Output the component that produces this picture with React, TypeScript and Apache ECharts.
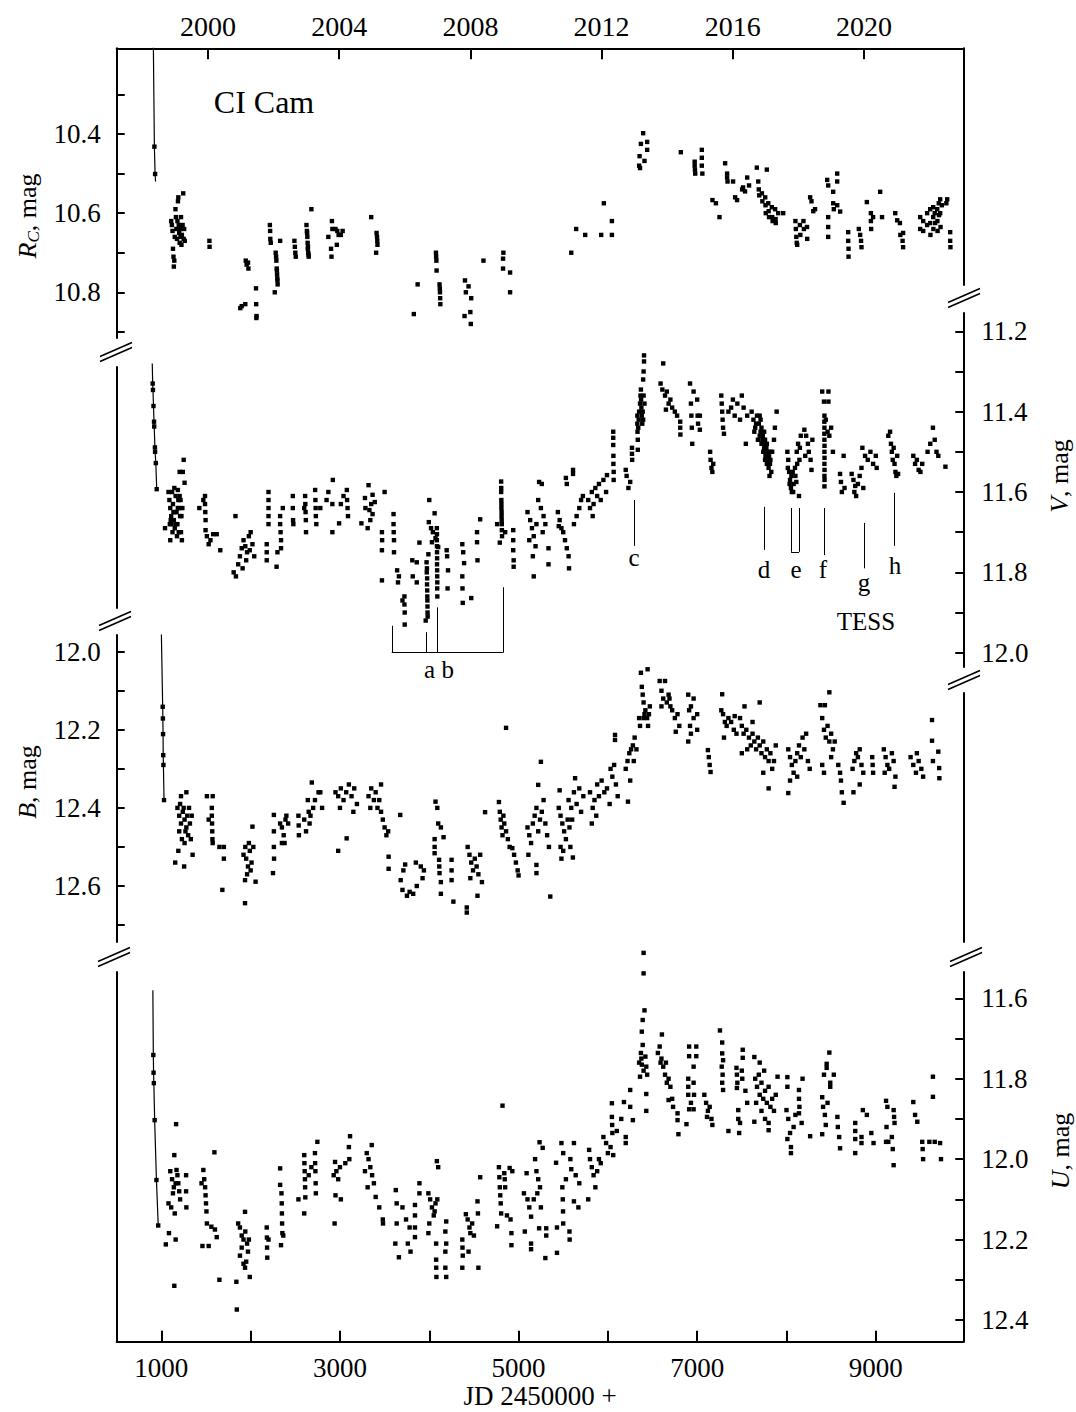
import React, { useEffect, useRef } from "react";
import * as echarts from "echarts";

// ---------------- DATA (JD - 2450000, magnitude) ----------------
const rcEarlyLine = [[908, 10.12], [922, 10.432], [930, 10.501], [935, 10.52]];
const rcPoints = [
  [922, 10.432], [930, 10.501],
  [1110, 10.62], [1118, 10.63], [1125, 10.645], [1130, 10.69], [1136, 10.71], [1140, 10.735], [1145, 10.72], [1150, 10.66], [1158, 10.59], [1163, 10.61], [1168, 10.64], [1175, 10.665], [1180, 10.62], [1186, 10.57], [1190, 10.56], [1195, 10.63], [1200, 10.65], [1205, 10.675], [1210, 10.64], [1215, 10.66], [1220, 10.61], [1225, 10.68], [1230, 10.655], [1238, 10.63], [1245, 10.55], [1250, 10.665], [1255, 10.64], [1262, 10.67],
  [1538, 10.67], [1540, 10.685],
  [1884, 10.84], [1900, 10.835], [1940, 10.83], [1945, 10.72], [1955, 10.73], [1970, 10.725], [1975, 10.74],
  [2060, 10.79], [2062, 10.83], [2064, 10.865], [2066, 10.86],
  [2215, 10.63], [2218, 10.645], [2220, 10.665], [2225, 10.675],
  [2280, 10.70], [2285, 10.71], [2288, 10.72], [2292, 10.74], [2294, 10.745], [2296, 10.755], [2298, 10.765], [2300, 10.77], [2302, 10.78], [2270, 10.80], [2330, 10.67],
  [2490, 10.67], [2495, 10.685], [2500, 10.70], [2505, 10.71],
  [2625, 10.63], [2630, 10.645], [2632, 10.65], [2635, 10.66], [2638, 10.675], [2640, 10.69], [2642, 10.685], [2645, 10.70], [2648, 10.705], [2650, 10.71], [2680, 10.59],
  [2870, 10.66], [2900, 10.69], [2905, 10.71], [2910, 10.62], [2915, 10.64], [2950, 10.64], [2970, 10.645], [2985, 10.655], [3010, 10.655], [2965, 10.68], [3030, 10.645],
  [3350, 10.61], [3410, 10.65], [3415, 10.66], [3418, 10.67], [3420, 10.68], [3405, 10.70],
  [3827, 10.855], [3870, 10.78],
  [4075, 10.70], [4077, 10.71], [4080, 10.72], [4082, 10.745],
  [4115, 10.78], [4118, 10.79], [4120, 10.80], [4122, 10.815], [4124, 10.83],
  [4400, 10.77], [4440, 10.785], [4410, 10.80], [4470, 10.815], [4395, 10.86], [4460, 10.85], [4465, 10.88],
  [4607, 10.72],
  [4830, 10.70], [4826, 10.715], [4826, 10.74], [4905, 10.75], [4905, 10.80],
  [5590, 10.70], [5645, 10.64], [5746, 10.655], [5925, 10.655], [6045, 10.655], [6045, 10.62], [5955, 10.575],
  [6395, 10.398], [6370, 10.425], [6440, 10.42], [6440, 10.44], [6355, 10.456], [6410, 10.468], [6350, 10.48], [6360, 10.486],
  [6817, 10.446],
  [6972, 10.47], [6972, 10.48], [6975, 10.49], [6978, 10.50], [7052, 10.44], [7052, 10.46], [7052, 10.48], [7058, 10.50],
  [7171, 10.567], [7210, 10.575], [7250, 10.61],
  [7313, 10.474], [7335, 10.50], [7335, 10.51], [7340, 10.52], [7402, 10.52], [7425, 10.56], [7447, 10.567], [7503, 10.54], [7514, 10.535], [7536, 10.545], [7581, 10.53], [7560, 10.51],
  [7668, 10.485], [7780, 10.49], [7684, 10.52], [7690, 10.54], [7695, 10.555], [7725, 10.55], [7730, 10.57], [7762, 10.56], [7765, 10.58], [7768, 10.60], [7796, 10.575], [7800, 10.595], [7805, 10.61], [7836, 10.585], [7840, 10.61], [7845, 10.62], [7873, 10.59], [7878, 10.615], [7880, 10.625], [7907, 10.60], [7963, 10.60],
  [8100, 10.62], [8105, 10.64], [8110, 10.66], [8115, 10.675], [8150, 10.63], [8155, 10.655], [8120, 10.68],
  [8190, 10.62], [8195, 10.64], [8230, 10.635], [8232, 10.665],
  [8265, 10.56], [8280, 10.57], [8300, 10.595], [8320, 10.59],
  [8467, 10.61], [8467, 10.635], [8467, 10.66], [8456, 10.516], [8467, 10.53], [8523, 10.546], [8568, 10.50], [8568, 10.52], [8523, 10.575], [8530, 10.59], [8568, 10.58], [8601, 10.596],
  [8691, 10.648], [8691, 10.67], [8695, 10.69], [8695, 10.71],
  [8810, 10.64], [8825, 10.655], [8835, 10.67], [8840, 10.686],
  [8900, 10.572], [8945, 10.60], [8945, 10.62], [8948, 10.64], [8970, 10.61], [9070, 10.61], [9049, 10.546],
  [9218, 10.60], [9240, 10.618], [9270, 10.625], [9275, 10.655], [9306, 10.65], [9300, 10.67], [9306, 10.686],
  [9497, 10.61], [9497, 10.64], [9531, 10.62], [9531, 10.645], [9575, 10.60], [9575, 10.63], [9609, 10.59], [9609, 10.625], [9612, 10.655], [9643, 10.585], [9643, 10.61], [9645, 10.64], [9688, 10.59], [9690, 10.62], [9692, 10.645], [9721, 10.565], [9721, 10.60], [9725, 10.635], [9800, 10.565], [9790, 10.575], [9833, 10.648], [9833, 10.67], [9836, 10.686],
  [9660, 10.60], [9665, 10.625], [9705, 10.575], [9708, 10.605], [9740, 10.58],
];

const vEarlyLine = [[898, 11.28], [903, 11.33], [906, 11.346], [912, 11.386], [918, 11.425], [920, 11.437], [928, 11.489], [930, 11.50], [938, 11.528], [948, 11.593]];
const vPoints = [
  [903, 11.33], [906, 11.346], [912, 11.386], [918, 11.425], [920, 11.437], [928, 11.489], [930, 11.50], [938, 11.528], [948, 11.593],
  [1250, 11.52], [1205, 11.55], [1240, 11.55], [1260, 11.577], [1100, 11.72], [1230, 11.72], [1041, 11.69],
  [1080, 11.60], [1090, 11.62], [1100, 11.64], [1110, 11.66], [1120, 11.60], [1130, 11.63], [1140, 11.67], [1150, 11.69], [1160, 11.61], [1170, 11.65], [1180, 11.68], [1190, 11.62], [1200, 11.64], [1210, 11.66], [1220, 11.70], [1125, 11.70], [1175, 11.71], [1095, 11.68], [1145, 11.59], [1185, 11.595], [1235, 11.64], [1215, 11.62], [1155, 11.65], [1105, 11.67], [1195, 11.70],
  [1115, 11.68], [1135, 11.65], [1165, 11.68], [1185, 11.64], [1205, 11.61], [1225, 11.66],
  [1489, 11.61], [1425, 11.64], [1489, 11.63], [1492, 11.65], [1495, 11.67], [1495, 11.695], [1510, 11.71], [1530, 11.73], [1580, 11.705], [1620, 11.705], [1660, 11.745], [1470, 11.62], [1550, 11.72],
  [1830, 11.66], [1835, 11.81], [1810, 11.80], [1860, 11.78], [1880, 11.76], [1900, 11.74], [1920, 11.72], [1940, 11.735], [1960, 11.75], [1980, 11.71], [2000, 11.70], [2020, 11.73], [2040, 11.76], [1950, 11.77], [1910, 11.79], [1990, 11.745],
  [2200, 11.60], [2200, 11.62], [2200, 11.64], [2200, 11.66], [2200, 11.68], [2180, 11.73], [2180, 11.75], [2180, 11.77], [2290, 11.786], [2330, 11.66], [2330, 11.68], [2335, 11.70], [2340, 11.72], [2340, 11.74], [2360, 11.64], [2300, 11.75],
  [2472, 11.61], [2472, 11.64], [2475, 11.67], [2478, 11.68], [2610, 11.61], [2612, 11.63], [2615, 11.65], [2618, 11.67], [2620, 11.70], [2600, 11.64], [2722, 11.595], [2725, 11.62], [2728, 11.64], [2730, 11.66], [2735, 11.68], [2780, 11.64], [2920, 11.57], [2915, 11.63], [2915, 11.70], [2850, 11.62], [2870, 11.60], [2990, 11.678], [3077, 11.595], [3080, 11.62], [3085, 11.64], [3090, 11.66], [3010, 11.63], [3040, 11.61],
  [3320, 11.583], [3365, 11.607], [3280, 11.615], [3285, 11.64], [3330, 11.645], [3365, 11.655], [3340, 11.67], [3310, 11.69], [3240, 11.678], [3500, 11.60], [3390, 11.625], [3350, 11.63],
  [3470, 11.70], [3472, 11.72], [3470, 11.745], [3600, 11.655], [3600, 11.68], [3602, 11.70], [3605, 11.72], [3605, 11.75],
  [3470, 11.82], [3640, 11.795], [3660, 11.81], [3650, 11.825], [3722, 11.86], [3722, 11.88], [3725, 11.90], [3725, 11.93], [3700, 11.87],
  [3810, 11.77], [3860, 11.775], [3815, 11.81], [3860, 11.825], [3890, 11.726],
  [3970, 11.775], [3972, 11.80], [3975, 11.83], [3978, 11.86], [3980, 11.885], [3982, 11.91], [3960, 11.92], [3990, 11.755],
  [3974, 11.79], [3976, 11.815], [3977, 11.845], [3979, 11.87], [3981, 11.90],
  [4000, 11.62], [4060, 11.653], [3995, 11.675], [4020, 11.69], [4040, 11.70], [4070, 11.715], [4100, 11.737], [4030, 11.725],
  [4085, 11.69], [4085, 11.72], [4087, 11.75], [4087, 11.78], [4089, 11.81], [4089, 11.84], [4090, 11.86],
  [4086, 11.705], [4086, 11.735], [4088, 11.765], [4088, 11.795], [4090, 11.825],
  [4195, 11.745], [4200, 11.76], [4210, 11.795], [4205, 11.84],
  [4370, 11.73], [4380, 11.75], [4390, 11.777], [4370, 11.81], [4372, 11.84], [4375, 11.876], [4470, 11.864], [4535, 11.70], [4535, 11.725], [4540, 11.77], [4570, 11.668],
  [4805, 11.574], [4805, 11.60], [4807, 11.62], [4808, 11.64], [4810, 11.66], [4812, 11.68], [4815, 11.71], [4760, 11.68], [4790, 11.726], [4850, 11.70], [4940, 11.695], [4940, 11.72], [4940, 11.745], [4945, 11.77], [4945, 11.786],
  [4806, 11.59], [4808, 11.63], [4810, 11.65], [4811, 11.67], [4813, 11.695],
  [5100, 11.65], [5130, 11.67], [5150, 11.69], [5170, 11.71], [5190, 11.735], [5120, 11.72], [5200, 11.68], [5160, 11.76], [5170, 11.81],
  [5230, 11.575], [5260, 11.58], [5220, 11.62], [5250, 11.64], [5280, 11.66], [5300, 11.68], [5270, 11.70], [5335, 11.74], [5335, 11.78],
  [5440, 11.65], [5460, 11.67], [5480, 11.69], [5500, 11.70], [5520, 11.72], [5540, 11.74], [5560, 11.76], [5565, 11.79], [5450, 11.685],
  [5530, 11.565], [5540, 11.58], [5610, 11.545], [5610, 11.555],
  [5620, 11.68], [5650, 11.66], [5680, 11.64], [5700, 11.62], [5720, 11.61],
  [5780, 11.62], [5800, 11.64], [5820, 11.60], [5840, 11.63], [5860, 11.59], [5880, 11.61], [5900, 11.58], [5920, 11.62], [5950, 11.57], [5980, 11.60], [5830, 11.66],
  [5990, 11.558], [6060, 11.45], [6060, 11.465], [6060, 11.483], [6062, 11.51], [6062, 11.53], [6065, 11.55], [6065, 11.57],
  [6200, 11.545], [6210, 11.56], [6230, 11.59], [6250, 11.575], [6270, 11.49], [6270, 11.505], [6272, 11.52],
  [6330, 11.41], [6330, 11.43], [6332, 11.45], [6335, 11.47], [6335, 11.495], [6370, 11.345], [6372, 11.37], [6375, 11.39], [6380, 11.41], [6385, 11.43], [6390, 11.40], [6395, 11.42], [6405, 11.26], [6405, 11.275], [6400, 11.30], [6395, 11.32], [6400, 11.36], [6410, 11.38],
  [6340, 11.44], [6345, 11.42], [6350, 11.40], [6360, 11.38], [6365, 11.36],
  [6620, 11.28], [6590, 11.33], [6610, 11.345], [6640, 11.36], [6660, 11.35], [6680, 11.38], [6700, 11.37], [6720, 11.39], [6750, 11.40], [6775, 11.41], [6810, 11.425], [6810, 11.44], [6812, 11.457], [6650, 11.395],
  [6920, 11.33], [6960, 11.35], [6930, 11.38], [6935, 11.41], [6940, 11.44], [6945, 11.48], [7000, 11.37], [7005, 11.41], [7010, 11.43],
  [7030, 11.41], [7030, 11.445], [7145, 11.50], [7150, 11.52], [7160, 11.54], [7170, 11.55], [7180, 11.53],
  [7270, 11.36], [7275, 11.38], [7280, 11.40], [7285, 11.42], [7290, 11.44], [7300, 11.455],
  [7350, 11.40], [7380, 11.39], [7400, 11.37], [7420, 11.41], [7450, 11.38], [7480, 11.42], [7500, 11.36], [7520, 11.39], [7545, 11.48], [7560, 11.41],
  [7610, 11.40], [7630, 11.42], [7650, 11.44], [7670, 11.41], [7690, 11.43], [7700, 11.46], [7710, 11.45], [7720, 11.48], [7730, 11.47], [7740, 11.50], [7750, 11.49], [7760, 11.52], [7770, 11.50], [7780, 11.53], [7790, 11.51], [7800, 11.54], [7810, 11.56], [7820, 11.52], [7840, 11.50], [7860, 11.47], [7870, 11.44], [7890, 11.40], [7680, 11.47], [7710, 11.42], [7750, 11.45], [7830, 11.55], [7640, 11.45], [7780, 11.48],
  [7720, 11.44], [7735, 11.46], [7745, 11.47], [7755, 11.48], [7765, 11.51], [7775, 11.49], [7785, 11.52], [7795, 11.50], [7805, 11.51], [7815, 11.53], [7825, 11.50], [7760, 11.47], [7700, 11.41], [7660, 11.43],
  [8010, 11.50], [8020, 11.52], [8030, 11.55], [8040, 11.57], [8050, 11.59], [8060, 11.60], [8080, 11.58], [8100, 11.56], [8120, 11.53], [8140, 11.61], [8150, 11.49], [8160, 11.46], [8070, 11.55], [8110, 11.575],
  [8015, 11.54], [8035, 11.58], [8055, 11.56], [8075, 11.60], [8095, 11.54], [8115, 11.50], [8130, 11.48], [8145, 11.52],
  [8200, 11.445], [8220, 11.46], [8240, 11.48], [8250, 11.50], [8270, 11.52], [8280, 11.545], [8210, 11.51], [8290, 11.47],
  [8400, 11.35], [8470, 11.35], [8420, 11.375], [8470, 11.375], [8425, 11.41], [8425, 11.44], [8425, 11.47], [8425, 11.50], [8425, 11.53], [8425, 11.56], [8425, 11.586], [8440, 11.42], [8460, 11.45], [8480, 11.46], [8500, 11.44], [8520, 11.50],
  [8424, 11.425], [8424, 11.455], [8426, 11.485], [8426, 11.515], [8426, 11.545], [8426, 11.57],
  [8640, 11.51], [8600, 11.555], [8610, 11.575], [8620, 11.60], [8650, 11.59],
  [8730, 11.555], [8750, 11.57], [8760, 11.60], [8780, 11.61], [8800, 11.58], [8820, 11.56], [8840, 11.54], [8860, 11.59], [8770, 11.585],
  [8850, 11.49], [8880, 11.51], [8910, 11.52], [8940, 11.50], [8970, 11.53], [9000, 11.51], [9010, 11.54],
  [9140, 11.46], [9160, 11.45], [9170, 11.48], [9180, 11.50], [9190, 11.52], [9200, 11.49], [9210, 11.53], [9220, 11.55], [9230, 11.56], [9240, 11.51], [9250, 11.555],
  [9420, 11.51], [9440, 11.53], [9460, 11.52], [9480, 11.545], [9500, 11.55], [9520, 11.53],
  [9580, 11.50], [9610, 11.48], [9640, 11.44], [9660, 11.47], [9680, 11.50], [9700, 11.51], [9780, 11.537],
];

const bEarlyLine = [[1000, 11.95], [1015, 12.141], [1017, 12.171], [1019, 12.211], [1021, 12.265], [1023, 12.29], [1030, 12.38]];
const bPoints = [
  [1015, 12.141], [1017, 12.171], [1019, 12.211], [1021, 12.265], [1023, 12.29], [1030, 12.38],
  [1155, 12.54], [1255, 12.55], [1280, 12.36], [1220, 12.37], [1180, 12.40], [1200, 12.42], [1220, 12.44], [1240, 12.41], [1260, 12.43], [1280, 12.45], [1300, 12.47], [1320, 12.44], [1340, 12.42], [1200, 12.46], [1230, 12.48], [1260, 12.49], [1290, 12.42], [1250, 12.40], [1210, 12.39], [1330, 12.48], [1190, 12.51], [1350, 12.52], [1270, 12.46], [1310, 12.40],
  [1510, 12.37], [1575, 12.37], [1565, 12.40], [1565, 12.42], [1568, 12.44], [1570, 12.46], [1572, 12.48], [1575, 12.49], [1650, 12.50], [1700, 12.50], [1700, 12.53], [1683, 12.61], [1530, 12.43],
  [2020, 12.448], [1937, 12.585], [1937, 12.644], [2055, 12.589], [1920, 12.52], [1950, 12.53], [1970, 12.55], [1990, 12.51], [2010, 12.54], [2030, 12.50], [1960, 12.57], [1980, 12.49], [2000, 12.56], [1940, 12.50],
  [2260, 12.418], [2250, 12.567], [2260, 12.46], [2260, 12.50], [2262, 12.53], [2330, 12.44], [2350, 12.45], [2370, 12.47], [2390, 12.43], [2400, 12.42], [2420, 12.44], [2380, 12.49], [2350, 12.49],
  [2685, 12.335], [2640, 12.38], [2650, 12.41], [2660, 12.44], [2670, 12.42], [2700, 12.40], [2760, 12.36], [2780, 12.36], [2535, 12.42], [2538, 12.445], [2540, 12.47], [2600, 12.43], [2620, 12.46], [2720, 12.38], [2800, 12.40],
  [2950, 12.36], [2980, 12.37], [3010, 12.35], [3040, 12.38], [3070, 12.36], [3100, 12.34], [3130, 12.37], [3160, 12.35], [3190, 12.39], [2980, 12.51], [3075, 12.478], [3000, 12.40], [3150, 12.41],
  [3320, 12.37], [3350, 12.35], [3380, 12.38], [3400, 12.36], [3420, 12.40], [3440, 12.38], [3460, 12.34], [3340, 12.40],
  [3460, 12.41], [3480, 12.43], [3500, 12.45], [3520, 12.47], [3540, 12.46], [3545, 12.525], [3545, 12.556], [3675, 12.418],
  [3730, 12.545], [3850, 12.54], [3905, 12.55], [3940, 12.56], [3925, 12.58], [3860, 12.60], [3780, 12.615], [3820, 12.62], [3750, 12.625], [3700, 12.61], [3680, 12.585], [3710, 12.56],
  [4070, 12.384], [4090, 12.40], [4100, 12.44], [4130, 12.45], [4160, 12.475], [4060, 12.48], [4060, 12.50], [4060, 12.516], [4110, 12.533], [4112, 12.55], [4115, 12.567], [4130, 12.59], [4130, 12.62], [4250, 12.533], [4250, 12.56], [4250, 12.585], [4270, 12.64],
  [4420, 12.655], [4420, 12.668], [4540, 12.625], [4625, 12.411], [4430, 12.50], [4450, 12.52], [4470, 12.54], [4490, 12.56], [4510, 12.53], [4530, 12.55], [4550, 12.57], [4570, 12.52], [4590, 12.59], [4460, 12.58],
  [4860, 12.195], [4780, 12.385], [4790, 12.41], [4800, 12.43], [4810, 12.45], [4820, 12.47], [4840, 12.44], [4860, 12.46], [4880, 12.48], [4900, 12.50], [4830, 12.42],
  [4930, 12.503], [4950, 12.52], [4970, 12.54], [4990, 12.56], [5000, 12.573],
  [5250, 12.282], [5220, 12.341], [5100, 12.45], [5120, 12.47], [5140, 12.49], [5160, 12.44], [5180, 12.42], [5200, 12.40], [5220, 12.46], [5240, 12.43], [5260, 12.41], [5280, 12.38], [5300, 12.44], [5320, 12.47], [5340, 12.50], [5200, 12.546], [5200, 12.567], [5355, 12.627], [5110, 12.52],
  [5450, 12.40], [5470, 12.42], [5490, 12.44], [5510, 12.46], [5530, 12.48], [5550, 12.43], [5570, 12.45], [5580, 12.50], [5460, 12.355], [5500, 12.51], [5470, 12.50], [5480, 12.53], [5608, 12.527],
  [5633, 12.324], [5560, 12.38], [5590, 12.40], [5620, 12.36], [5650, 12.39], [5680, 12.35], [5700, 12.41], [5725, 12.37], [5600, 12.43],
  [5800, 12.36], [5830, 12.40], [5850, 12.38], [5880, 12.34], [5900, 12.37], [5930, 12.33], [5960, 12.36], [5990, 12.35], [6020, 12.39], [5820, 12.44], [5870, 12.42],
  [6030, 12.30], [6050, 12.32], [6070, 12.29], [6090, 12.34], [6110, 12.37], [6080, 12.213], [6080, 12.226],
  [6200, 12.30], [6220, 12.28], [6240, 12.26], [6260, 12.25], [6280, 12.24], [6300, 12.22], [6320, 12.25], [6225, 12.384], [6250, 12.33], [6290, 12.28],
  [6445, 12.045], [6370, 12.054], [6380, 12.09], [6390, 12.11], [6400, 12.13], [6420, 12.15], [6440, 12.17], [6460, 12.16], [6470, 12.14], [6350, 12.17], [6360, 12.19], [6450, 12.19], [6410, 12.16], [6400, 12.17],
  [6580, 12.075], [6640, 12.075], [6600, 12.10], [6620, 12.12], [6660, 12.13], [6680, 12.11], [6700, 12.14], [6720, 12.15], [6750, 12.17], [6780, 12.16], [6800, 12.19], [6600, 12.14], [6760, 12.205], [6690, 12.12],
  [6900, 12.11], [6960, 12.12], [6910, 12.15], [6930, 12.14], [6960, 12.17], [7000, 12.16], [6920, 12.19], [6930, 12.21], [7000, 12.20], [6900, 12.23],
  [7120, 12.252], [7130, 12.27], [7140, 12.29], [7150, 12.308],
  [7280, 12.109], [7270, 12.15], [7290, 12.16], [7310, 12.18], [7330, 12.19], [7350, 12.17], [7380, 12.18], [7410, 12.20], [7440, 12.21], [7300, 12.22], [7420, 12.165],
  [7700, 12.13], [7530, 12.14], [7480, 12.17], [7500, 12.19], [7520, 12.21], [7550, 12.20], [7580, 12.22], [7600, 12.24], [7620, 12.21], [7640, 12.23], [7660, 12.25], [7680, 12.22], [7700, 12.24], [7720, 12.26], [7740, 12.23], [7760, 12.27], [7780, 12.25], [7800, 12.28], [7820, 12.26], [7840, 12.30], [7860, 12.28], [7800, 12.35], [7620, 12.18], [7880, 12.24], [7500, 12.26], [7740, 12.31], [7560, 12.25],
  [8020, 12.362], [8020, 12.25], [8040, 12.27], [8060, 12.29], [8080, 12.31], [8100, 12.28], [8120, 12.26], [8140, 12.24], [8160, 12.27], [8180, 12.22], [8200, 12.25], [8220, 12.21], [8240, 12.28], [8260, 12.30], [8040, 12.33], [8120, 12.32],
  [8480, 12.104], [8380, 12.137], [8430, 12.137], [8400, 12.17], [8420, 12.20], [8440, 12.22], [8460, 12.19], [8480, 12.23], [8500, 12.21], [8520, 12.25], [8540, 12.23], [8400, 12.29], [8420, 12.31], [8500, 12.27],
  [8580, 12.29], [8600, 12.31], [8610, 12.33], [8620, 12.36], [8640, 12.387],
  [8740, 12.30], [8760, 12.28], [8780, 12.26], [8800, 12.27], [8820, 12.25], [8840, 12.29], [8860, 12.31], [8750, 12.36], [8820, 12.34],
  [8960, 12.27], [8965, 12.29], [8970, 12.31],
  [9090, 12.25], [9110, 12.27], [9130, 12.29], [9150, 12.30], [9180, 12.26], [9200, 12.28], [9220, 12.32], [9210, 12.346], [9100, 12.31],
  [9390, 12.27], [9420, 12.29], [9450, 12.31], [9480, 12.28], [9510, 12.30], [9530, 12.32], [9460, 12.26],
  [9630, 12.175], [9630, 12.228], [9640, 12.28], [9700, 12.256], [9710, 12.298], [9712, 12.324],
];

const uEarlyLine = [[905, 11.58], [910, 11.741], [913, 11.785], [916, 11.811], [925, 11.903], [945, 12.052], [965, 12.165]];
const uPoints = [
  [910, 11.741], [913, 11.785], [916, 11.811], [925, 11.903], [945, 12.052], [965, 12.165],
  [1165, 11.913], [1145, 11.99], [1100, 12.03], [1120, 12.05], [1140, 12.07], [1160, 12.06], [1180, 12.04], [1200, 12.08], [1130, 12.085], [1170, 12.027], [1080, 12.11], [1110, 12.12], [1150, 12.135], [1085, 12.184], [1160, 12.20], [1050, 12.212], [1145, 12.315], [1277, 12.04], [1277, 12.08], [1280, 12.12], [1190, 12.06], [1210, 12.10],
  [1594, 11.983], [1470, 12.027], [1480, 12.05], [1490, 12.07], [1495, 12.09], [1500, 12.11], [1505, 12.13], [1510, 12.16], [1560, 12.168], [1600, 12.175], [1620, 12.194], [1460, 12.216], [1530, 12.216], [1650, 12.30], [1450, 12.06],
  [1937, 12.131], [1860, 12.16], [1880, 12.17], [1900, 12.19], [1920, 12.20], [1940, 12.18], [1960, 12.21], [1970, 12.23], [1880, 12.24], [1920, 12.26], [1950, 12.255], [1937, 12.27], [1990, 12.293], [1840, 12.305], [1845, 12.374], [1900, 12.22], [1980, 12.20],
  [2180, 12.17], [2182, 12.195], [2184, 12.22], [2186, 12.245], [2200, 12.20], [2330, 12.023], [2330, 12.064], [2345, 12.085], [2348, 12.11], [2350, 12.135], [2352, 12.16], [2355, 12.184], [2340, 12.214], [2365, 12.19],
  [2747, 11.957], [2600, 11.99], [2602, 12.01], [2605, 12.03], [2608, 12.05], [2610, 12.07], [2612, 12.095], [2535, 12.10], [2600, 12.135], [2720, 11.985], [2722, 12.01], [2725, 12.03], [2728, 12.06], [2730, 12.085], [2680, 12.02], [2650, 12.04],
  [3113, 11.943], [3100, 11.97], [3105, 12.0], [2945, 12.007], [2960, 12.03], [2980, 12.05], [2930, 12.04], [2950, 12.09], [3010, 12.10], [2940, 12.16], [3000, 12.02], [3060, 12.01],
  [3356, 11.965], [3300, 11.985], [3320, 12.0], [3340, 12.02], [3360, 12.04], [3380, 12.06], [3310, 12.07], [3400, 12.094], [3440, 12.12], [3480, 12.15], [3482, 12.16], [3280, 12.03],
  [3625, 12.077], [3635, 12.11], [3635, 12.16], [3620, 12.21], [3660, 12.244], [3790, 12.23], [3760, 12.21], [3840, 12.114], [3840, 12.14], [3840, 12.17], [3840, 12.194], [3890, 12.06], [3890, 12.085], [3700, 12.12], [3740, 12.15], [3780, 12.17],
  [4085, 12.005], [4100, 12.02], [3990, 12.085], [4010, 12.10], [4030, 12.12], [4050, 12.14], [4070, 12.11], [4090, 12.10], [3990, 12.184], [4077, 12.21], [4077, 12.25], [4078, 12.27], [4080, 12.293], [4180, 12.27], [4190, 12.293], [4190, 12.155], [4180, 12.18], [4190, 12.21], [4180, 12.23], [4000, 12.16], [4060, 12.13],
  [4410, 12.137], [4430, 12.15], [4450, 12.17], [4460, 12.184], [4370, 12.20], [4372, 12.22], [4375, 12.24], [4370, 12.27], [4440, 12.23], [4550, 12.27], [4540, 12.105], [4545, 12.135], [4570, 12.045], [4500, 12.19], [4480, 12.16],
  [4820, 11.867], [4780, 12.02], [4785, 12.045], [4790, 12.07], [4795, 12.09], [4800, 12.11], [4805, 12.135], [4840, 12.035], [4845, 12.05], [4850, 12.07], [4900, 12.022], [4930, 12.03], [4760, 12.167], [4870, 12.14], [4910, 12.15], [4920, 12.184], [4920, 12.214],
  [5235, 11.958], [5270, 11.972], [5185, 12.0], [5200, 12.03], [5220, 12.05], [5240, 12.07], [5210, 12.085], [5090, 12.035], [5060, 12.085], [5100, 12.10], [5120, 12.12], [5140, 12.143], [5070, 12.18], [5140, 12.21], [5140, 12.224], [5300, 12.246], [5230, 12.172], [5310, 12.19], [5310, 12.172], [5170, 12.10], [5250, 12.12],
  [5480, 11.96], [5620, 11.96], [5420, 12.009], [5500, 11.985], [5580, 12.0], [5590, 12.025], [5490, 12.07], [5495, 12.10], [5498, 12.13], [5500, 12.16], [5430, 12.17], [5430, 12.233], [5570, 12.18], [5572, 12.20], [5620, 12.105], [5670, 12.12], [5640, 12.04], [5680, 12.06], [5530, 12.05],
  [5780, 12.10], [5790, 11.977], [5800, 12.0], [5820, 12.02], [5840, 12.04], [5860, 12.07], [5880, 12.03], [5900, 12.0], [5950, 11.945], [5980, 11.96], [6000, 11.985], [6060, 11.99], [6030, 11.97], [5920, 12.01],
  [6045, 11.861], [6045, 11.895], [6048, 11.915], [6050, 11.935], [6180, 11.858], [6250, 11.87], [6280, 11.903], [6200, 11.945], [6200, 11.96], [6250, 11.828], [6150, 11.90], [6100, 11.93],
  [6400, 11.487], [6400, 11.538], [6410, 11.63], [6390, 11.654], [6380, 11.683], [6390, 11.716], [6370, 11.736], [6375, 11.75], [6380, 11.765], [6400, 11.78], [6420, 11.745], [6430, 11.77], [6360, 11.795], [6430, 11.838], [6430, 11.88], [6350, 11.76], [6440, 11.79],
  [6605, 11.69], [6580, 11.72], [6560, 11.736], [6600, 11.75], [6620, 11.77], [6640, 11.79], [6660, 11.81], [6680, 11.80], [6700, 11.82], [6720, 11.85], [6680, 11.853], [6730, 11.87], [6590, 11.76], [6650, 11.76], [6780, 11.886], [6780, 11.903], [6790, 11.938],
  [6910, 11.72], [6990, 11.72], [6910, 11.744], [6990, 11.744], [6960, 11.77], [6900, 11.80], [6900, 11.82], [6960, 11.81], [6965, 11.84], [6900, 11.84], [6910, 11.876], [6960, 11.876], [6880, 11.913], [6930, 11.86],
  [7080, 11.84], [7100, 11.86], [7120, 11.88], [7140, 11.87], [7160, 11.90], [7170, 11.915], [7110, 11.895],
  [7255, 11.68], [7280, 11.71], [7280, 11.737], [7290, 11.754], [7275, 11.77], [7285, 11.79], [7280, 11.81], [7290, 11.828], [7350, 11.93],
  [7510, 11.728], [7510, 11.748], [7440, 11.773], [7445, 11.79], [7450, 11.81], [7500, 11.78], [7505, 11.80], [7445, 11.823], [7460, 11.878], [7460, 11.90], [7480, 11.91], [7470, 11.935], [7540, 11.83], [7560, 11.86],
  [7640, 11.746], [7650, 11.80], [7670, 11.82], [7690, 11.79], [7700, 11.84], [7720, 11.81], [7740, 11.85], [7760, 11.83], [7780, 11.86], [7800, 11.82], [7820, 11.87], [7840, 11.85], [7860, 11.88], [7880, 11.84], [7900, 11.795], [7640, 11.907], [7800, 11.91], [7800, 11.928], [7660, 11.86], [7720, 11.88], [7760, 11.90], [7700, 11.76], [7750, 11.78],
  [8010, 11.796], [8010, 11.82], [8000, 11.878], [8020, 11.90], [8040, 11.935], [8050, 11.97], [8050, 11.985], [8140, 11.828], [8140, 11.85], [8145, 11.87], [8180, 11.80], [8140, 11.886], [8170, 11.91], [8265, 11.943], [8010, 11.95], [8080, 11.92], [8100, 11.89],
  [8480, 11.735], [8450, 11.763], [8450, 11.773], [8420, 11.79], [8530, 11.79], [8490, 11.81], [8490, 11.82], [8400, 11.846], [8410, 11.87], [8430, 11.89], [8440, 11.915], [8400, 11.938], [8460, 11.86],
  [8570, 11.895], [8575, 11.92], [8590, 11.945], [8600, 11.973],
  [8855, 11.878], [8770, 11.91], [8770, 11.93], [8770, 11.95], [8840, 11.945], [8840, 11.96], [8770, 11.985], [8900, 11.89], [8950, 11.935], [8975, 11.96],
  [9115, 11.855], [9130, 11.87], [9200, 11.878], [9205, 11.895], [9210, 11.91], [9120, 11.92], [9180, 11.945], [9115, 11.957], [9140, 11.957], [9190, 11.975], [9200, 12.015],
  [9420, 11.858], [9440, 11.89], [9465, 11.907],
  [9640, 11.795], [9640, 11.845],
  [9520, 11.957], [9525, 11.975], [9530, 12.0], [9600, 11.957], [9660, 11.957], [9720, 11.96], [9730, 12.0],
];

// annotation marker segments in the V panel ([JD, mag] start / end)
const vMarkerSegments = [
  [[3580, 11.933], [3580, 12.0]], [[3580, 12.0], [4824, 12.0]], [[4824, 12.0], [4824, 11.837]],
  [[3961, 11.949], [3961, 12.0]], [[4084, 11.887], [4084, 12.0]],
  [[6298, 11.62], [6298, 11.734]],
  [[7750, 11.637], [7750, 11.744]],
  [[8052, 11.64], [8052, 11.749]], [[8052, 11.749], [8141, 11.749]], [[8141, 11.749], [8141, 11.64]],
  [[8422, 11.64], [8422, 11.757]],
  [[8870, 11.677], [8870, 11.79]],
  [[9206, 11.602], [9206, 11.734]],
];
const markerLabels = ["a b", "c", "d", "e", "f", "g", "h", "TESS"];

const jdTicks = [1000, 2000, 3000, 4000, 5000, 6000, 7000, 8000, 9000];
const jdLabels = [1000, 3000, 5000, 7000, 9000];
const yearTicks = [2000, 2004, 2008, 2012, 2016, 2020];
const rcTicks = [10.3, 10.4, 10.5, 10.6, 10.7, 10.8, 10.9];
const rcLabels = [10.4, 10.6, 10.8];
const vTicks = [11.2, 11.3, 11.4, 11.5, 11.6, 11.7, 11.8, 11.9, 12.0];
const vLabels = [11.2, 11.4, 11.6, 11.8, 12.0];
const bTicks = [12.0, 12.1, 12.2, 12.3, 12.4, 12.5, 12.6, 12.7];
const bLabels = [12.0, 12.2, 12.4, 12.6];
const uTicks = [11.6, 11.7, 11.8, 11.9, 12.0, 12.1, 12.2, 12.3, 12.4];
const uLabels = [11.6, 11.8, 12.0, 12.2, 12.4];

// ---------------- CHART ----------------
const FONT = '"Liberation Serif", "Times New Roman", serif';
const BLACK = "#000";
const LEFT = 116.7;
const RIGHT = 1076 - 963.3;
const JD_MIN = 500;
const JD_MAX = 9980;

function magAxis(gridIndex: number, position: string, min: number, max: number, ticks: number[], labels: number[]) {
  return {
    type: "value", gridIndex, position, inverse: true, min, max,
    splitLine: { show: false },
    axisLine: { show: true, onZero: false, lineStyle: { color: BLACK, width: 2 } },
    axisTick: { show: true, inside: true, length: 8, lineStyle: { color: BLACK, width: 2 }, customValues: ticks },
    axisLabel: {
      show: true, customValues: labels, margin: position === "left" ? 16 : 18,
      color: BLACK, fontSize: 27, fontFamily: FONT,
      formatter: (v: number) => Number(v).toFixed(1),
    },
  };
}
function lineOnlyAxis(gridIndex: number, position: string) {
  return {
    type: "value", gridIndex, position, min: 0, max: 1,
    splitLine: { show: false },
    axisLine: { show: true, onZero: false, lineStyle: { color: BLACK, width: 2 } },
    axisTick: { show: false }, axisLabel: { show: false },
  };
}
function hiddenX(gridIndex: number) {
  return { type: "value", gridIndex, min: JD_MIN, max: JD_MAX, show: false, splitLine: { show: false } };
}
function breakMark(cx: number, cy: number) {
  return [-2.6, 2.6].map((d) => ({
    type: "line",
    shape: { x1: cx - 16, y1: cy + 7 + d, x2: cx + 16, y2: cy - 7 + d },
    style: { stroke: BLACK, lineWidth: 1.6 },
  }));
}
function txt(text: string, x: number, y: number, size: number) {
  return {
    type: "text", x, y,
    style: { text, fill: BLACK, fontSize: size, fontFamily: FONT, align: "center", verticalAlign: "middle" },
  };
}
function rotTitle(letter: string, sub: string | null, x: number, y: number) {
  const text = sub ? `{i|${letter}}{s|${sub}}{n|, mag}` : `{i|${letter}}{n|, mag}`;
  return {
    type: "text", x, y, rotation: Math.PI / 2,
    style: {
      text, align: "center", verticalAlign: "middle", fill: BLACK,
      rich: {
        i: { fontStyle: "italic", fontSize: 26, fontFamily: FONT, fill: BLACK, lineHeight: 30 },
        s: { fontStyle: "italic", fontSize: 17, fontFamily: FONT, fill: BLACK, lineHeight: 30, verticalAlign: "bottom", padding: [9, 0, 0, 0] },
        n: { fontSize: 26, fontFamily: FONT, fill: BLACK, lineHeight: 30 },
      },
    },
  };
}

const pointStyle = { color: BLACK, opacity: 1 };
function scatter(x: number, y: number, data: number[][], extra: any = {}) {
  return { type: "scatter", xAxisIndex: x, yAxisIndex: y, data, symbol: "rect", symbolSize: 4.4, itemStyle: pointStyle, silent: true, ...extra };
}
function earlyLine(x: number, y: number, data: number[][]) {
  return { type: "line", xAxisIndex: x, yAxisIndex: y, data, showSymbol: false, symbol: "none", lineStyle: { color: BLACK, width: 1.2, opacity: 1 }, silent: true, clip: true };
}

export default function App() {
  const ref = useRef<HTMLDivElement>(null);
  useEffect(() => {
    if (!ref.current) return;
    const chart = echarts.init(ref.current, null, { renderer: "svg" });
    const option: any = {
      animation: false,
      backgroundColor: "#fff",
      grid: [
        { left: LEFT, right: RIGHT, top: 48.3, height: 289.7, outerBoundsMode: "none" },
        { left: LEFT, right: RIGHT, top: 313, height: 354, outerBoundsMode: "none" },
        { left: LEFT, right: RIGHT, top: 635, height: 307, outerBoundsMode: "none" },
        { left: LEFT, right: RIGHT, top: 972, height: 369.7, outerBoundsMode: "none" },
        { left: LEFT, right: RIGHT, top: 48.3, height: 236.7, outerBoundsMode: "none" },
        { left: LEFT, right: RIGHT, top: 367, height: 241, outerBoundsMode: "none" },
        { left: LEFT, right: RIGHT, top: 693, height: 249, outerBoundsMode: "none" },
      ],
      xAxis: [
        hiddenX(0), hiddenX(1), hiddenX(2),
        {
          type: "value", gridIndex: 3, position: "bottom", min: JD_MIN, max: JD_MAX,
          splitLine: { show: false },
          axisLine: { show: true, onZero: false, lineStyle: { color: BLACK, width: 2 } },
          axisTick: { show: true, inside: true, length: 11, lineStyle: { color: BLACK, width: 2 }, customValues: jdTicks },
          axisLabel: { show: true, customValues: jdLabels, margin: 13, color: BLACK, fontSize: 27, fontFamily: FONT, formatter: (v: number) => String(Math.round(v)) },
          name: "JD 2450000 +", nameLocation: "middle", nameGap: 40,
          nameTextStyle: { color: BLACK, fontSize: 27, fontFamily: FONT },
        },
        hiddenX(4), hiddenX(5), hiddenX(6),
        {
          type: "value", gridIndex: 0, position: "top", min: 1997.217, max: 2023.027,
          splitLine: { show: false },
          axisLine: { show: true, onZero: false, lineStyle: { color: BLACK, width: 2 } },
          axisTick: { show: true, inside: true, length: 11, lineStyle: { color: BLACK, width: 2 }, customValues: yearTicks },
          axisLabel: { show: true, customValues: yearTicks, margin: 8, color: BLACK, fontSize: 28, fontFamily: FONT, formatter: (v: number) => String(Math.round(v)) },
        },
      ],
      yAxis: [
        magAxis(0, "left", 10.1834, 10.9155, rcTicks, rcLabels),
        magAxis(1, "right", 11.15445, 12.0356, vTicks, vLabels),
        magAxis(2, "left", 11.95724, 12.7434, bTicks, bLabels),
        magAxis(3, "right", 11.5346, 12.454, uTicks, uLabels),
        lineOnlyAxis(3, "left"),
        lineOnlyAxis(4, "right"),
        lineOnlyAxis(5, "left"),
        lineOnlyAxis(6, "right"),
      ],
      series: [
        earlyLine(0, 0, rcEarlyLine),
        scatter(0, 0, rcPoints),
        earlyLine(1, 1, vEarlyLine),
        scatter(1, 1, vPoints, {
          markLine: {
            silent: true, symbol: ["none", "none"], label: { show: false }, animation: false,
            lineStyle: { color: BLACK, width: 1, type: "solid", opacity: 1 },
            emphasis: { disabled: true },
            data: vMarkerSegments.map((seg) => [{ coord: seg[0] }, { coord: seg[1] }]),
          },
        }),
        earlyLine(2, 2, bEarlyLine),
        scatter(2, 2, bPoints),
        earlyLine(3, 3, uEarlyLine),
        scatter(3, 3, uPoints, { clip: false }),
      ],
      graphic: [
        txt("CI Cam", 264, 102, 32),
        rotTitle("R", "C", 27, 216),
        rotTitle("V", null, 1059, 476),
        rotTitle("B", null, 27, 782),
        rotTitle("U", null, 1060, 1151),
        txt(markerLabels[0], 439, 669, 25),
        txt(markerLabels[1], 634, 557, 25),
        txt(markerLabels[2], 764, 569, 25),
        txt(markerLabels[3], 796, 569, 25),
        txt(markerLabels[4], 823, 569, 25),
        txt(markerLabels[5], 864, 582, 25),
        txt(markerLabels[6], 895, 565, 25),
        txt(markerLabels[7], 866, 621, 25),
        ...breakMark(116, 352),
        ...breakMark(115, 621),
        ...breakMark(114, 957),
        ...breakMark(964, 298),
        ...breakMark(964, 680),
        ...breakMark(966, 957),
      ],
    };
    chart.setOption(option);
    return () => chart.dispose();
  }, []);
  return (
    <div
      ref={ref}
      style={{ position: "absolute", left: 0, top: 0, width: 1076, height: 1412, background: "#fff" }}
    />
  );
}
